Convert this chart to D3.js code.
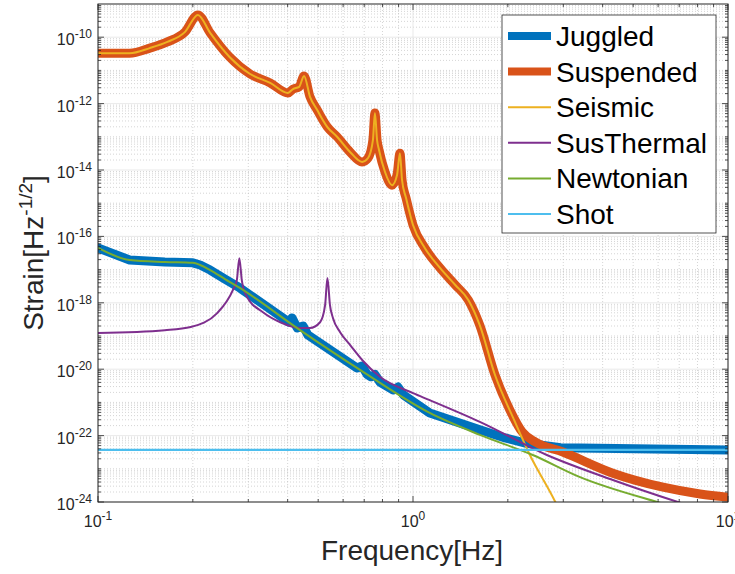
<!DOCTYPE html>
<meta charset="utf-8">
<head>
<style>
body { margin: 0; background: #fff; }
svg { display: block; font-family: "Liberation Sans", Arial, Helvetica, sans-serif; }
.minor { stroke: #b8b8b8; stroke-width: .6px; stroke-dasharray: 1,2; }
.major { stroke: #e3e3e3; stroke-width: .8px; }
.frame { fill: none; stroke: #262626; stroke-width: 1px; }
.tick { stroke: #262626; stroke-width: .8px; }
.ticklabel { fill: #262626; font-size: 16px; }
</style>
</head>
<body>
<script src="https://d3js.org/d3.v7.min.js"></script>
<div id="chart"></div>
<script>

// data (frequency in Hz, strain in Hz^-1/2)
var juggledFreq = [0.1, 0.126, 0.163, 0.2, 0.211, 0.227, 0.253, 0.282, 0.404, 0.413, 0.429, 0.448, 0.464, 0.664, 0.689, 0.715, 0.736, 0.757, 0.785, 0.864, 0.896, 0.933, 1.13, 1.63, 1.96, 2.26, 2.94, 10];
var juggledStrain = [4.5e-17, 1.95e-17, 1.7e-17, 1.6e-17, 1.38e-17, 9.7e-18, 5.2e-18, 2.8e-18, 2.6e-19, 3.5e-19, 1.74e-19, 2.0e-19, 1.07e-19, 1.09e-20, 1.25e-20, 7.0e-21, 5.9e-21, 6.9e-21, 4.1e-21, 2.36e-21, 2.9e-21, 1.67e-21, 4.8e-22, 1.5e-22, 8.5e-23, 6e-23, 4.3e-23, 3.7e-23];

var suspendedFreq = [0.1, 0.126, 0.146, 0.166, 0.189, 0.2075, 0.227, 0.262, 0.304, 0.352, 0.401, 0.416, 0.435, 0.451, 0.471, 0.496, 0.534, 0.574, 0.631, 0.689, 0.72, 0.746, 0.757, 0.769, 0.78, 0.815, 0.858, 0.89, 0.909, 0.923, 0.95, 1.0, 1.09, 1.22, 1.36, 1.50, 1.63, 1.82, 2.03, 2.22, 2.44, 2.99, 4.31, 6.22, 8.15, 10];
var suspendedStrain = [3.3e-11, 3.3e-11, 4.7e-11, 7.2e-11, 1.45e-10, 4.7e-10, 1.35e-10, 2.5e-11, 7.8e-12, 4.2e-12, 2.1e-12, 2.75e-12, 3.2e-12, 6.8e-12, 1.6e-12, 6.5e-13, 2.0e-13, 1.0e-13, 3.5e-14, 1.75e-14, 2.3e-14, 7.9e-14, 5.2e-13, 7.9e-14, 4.0e-14, 8.7e-15, 3.5e-15, 7.1e-15, 3.2e-14, 5.0e-15, 1.45e-15, 2.2e-16, 4.5e-17, 1.1e-17, 3.5e-18, 1.2e-18, 2.1e-19, 6.8e-21, 5.9e-22, 1.3e-22, 6.5e-23, 3.2e-23, 7.4e-24, 2.8e-24, 1.75e-24, 1.4e-24];

var seismicFreq = [0.1, 0.126, 0.146, 0.166, 0.189, 0.2075, 0.227, 0.262, 0.304, 0.352, 0.401, 0.416, 0.435, 0.451, 0.471, 0.496, 0.534, 0.574, 0.631, 0.689, 0.72, 0.746, 0.757, 0.769, 0.78, 0.815, 0.858, 0.89, 0.909, 0.923, 0.95, 1.0, 1.09, 1.22, 1.36, 1.50, 1.63, 1.82, 2.08, 2.35, 2.83, 3.04];
var seismicStrain = [3.3e-11, 3.3e-11, 4.7e-11, 7.2e-11, 1.45e-10, 4.7e-10, 1.35e-10, 2.5e-11, 7.8e-12, 4.2e-12, 2.1e-12, 2.75e-12, 3.2e-12, 6.8e-12, 1.6e-12, 6.5e-13, 2.0e-13, 1.0e-13, 3.5e-14, 1.75e-14, 2.3e-14, 7.9e-14, 5.2e-13, 7.9e-14, 4.0e-14, 8.7e-15, 3.5e-15, 7.1e-15, 3.2e-14, 5.0e-15, 1.45e-15, 2.2e-16, 4.5e-17, 1.1e-17, 3.5e-18, 1.2e-18, 2.1e-19, 6.8e-21, 3.4e-22, 2.6e-23, 1e-24, 2.3e-25];

var susThermalFreq = [0.1, 0.163, 0.197, 0.239, 0.268, 0.276, 0.281, 0.286, 0.295, 0.334, 0.379, 0.438, 0.471, 0.507, 0.526, 0.535, 0.545, 0.557, 0.587, 0.631, 0.693, 0.785, 1.0, 1.13, 1.63, 2.66, 4.31, 6.93, 9.44];
var susThermalStrain = [1.23e-19, 1.5e-19, 1.87e-19, 4.9e-19, 2.4e-18, 4.9e-18, 2.2e-17, 4.9e-18, 1.7e-18, 5.2e-19, 2.6e-19, 1.75e-19, 1.75e-19, 2.6e-19, 8.5e-19, 5.6e-18, 8.5e-19, 3.5e-19, 1.3e-19, 5.4e-20, 1.8e-20, 5.9e-21, 1.9e-21, 1.17e-21, 2.6e-22, 2.6e-23, 4.6e-24, 1e-24, 4e-25];

var newtonianFreq = [0.1, 0.126, 0.163, 0.2, 0.211, 0.227, 0.253, 0.282, 0.438, 0.679, 1.13, 1.63, 2.40, 3.39, 5.96, 8.15];
var newtonianStrain = [4.5e-17, 1.95e-17, 1.7e-17, 1.6e-17, 1.38e-17, 9.7e-18, 5.2e-18, 2.8e-18, 1.5e-19, 9.5e-21, 4.8e-22, 1.05e-22, 2.6e-23, 5.6e-24, 1e-24, 4.4e-25];

var shotFreq = [0.1, 10];
var shotStrain = [3.7e-23, 3.7e-23];

var seriesNames = ["Juggled", "Suspended", "Seismic", "SusThermal", "Newtonian", "Shot"];
var seriesColors = ["#0072BD", "#D95319", "#EDB120", "#7E2F8E", "#77AC30", "#4DBEEE"];
var seriesWidths = [9, 9, 2, 2, 2, 2.3];
var seriesFreq = [juggledFreq, suspendedFreq, seismicFreq, susThermalFreq, newtonianFreq, shotFreq];
var seriesStrain = [juggledStrain, suspendedStrain, seismicStrain, susThermalStrain, newtonianStrain, shotStrain];

var xTickExp = [-1, 0, 1];
var yTickExp = [-24, -22, -20, -18, -16, -14, -12, -10];

var width = 735, height = 574;
var pLeft = 98, pRight = 728, pTop = 4, pBottom = 502;

var x = d3.scaleLog().domain([0.1, 10]).range([pLeft, pRight]);
var y = d3.scaleLog().domain([1e-24, 1e-9]).range([pBottom, pTop]);

var svg = d3.select('#chart').append('svg')
    .attr('width', width)
    .attr('height', height);

svg.append('defs').append('clipPath').attr('id', 'clip')
  .append('rect')
    .attr('x', pLeft).attr('y', pTop)
    .attr('width', pRight - pLeft).attr('height', pBottom - pTop);

// minor ticks / grid positions
var xMinor = [], yMinor = [];
for (var e = -1; e < 1; e++) for (var m = 2; m <= 9; m++) xMinor.push(m * Math.pow(10, e));
for (var e = -24; e < -9; e++) for (var m = 1; m <= 9; m++) {
  if (m === 1 && (e % 2 === 0)) continue;
  yMinor.push(m * Math.pow(10, e));
}

var grid = svg.append('g');
grid.selectAll('.gx').data(xMinor).enter().append('line')
    .attr('class', 'minor')
    .attr('x1', d => x(d)).attr('x2', d => x(d))
    .attr('y1', pTop).attr('y2', pBottom);
grid.selectAll('.gy').data(yMinor).enter().append('line')
    .attr('class', 'minor')
    .attr('y1', d => y(d)).attr('y2', d => y(d))
    .attr('x1', pLeft).attr('x2', pRight);
grid.selectAll('.gX').data(xTickExp).enter().append('line')
    .attr('class', 'major')
    .attr('x1', d => x(Math.pow(10, d))).attr('x2', d => x(Math.pow(10, d)))
    .attr('y1', pTop).attr('y2', pBottom);
grid.selectAll('.gY').data(yTickExp).enter().append('line')
    .attr('class', 'major')
    .attr('y1', d => y(Math.pow(10, d))).attr('y2', d => y(Math.pow(10, d)))
    .attr('x1', pLeft).attr('x2', pRight);

// curves (juggled keeps straight joins so its small bumps don't make it sag)
var smoothLine = d3.line()
    .curve(d3.curveMonotoneX)
    .x(d => x(d[0]))
    .y(d => y(d[1]));
var straightLine = d3.line()
    .x(d => x(d[0]))
    .y(d => y(d[1]));

var curves = svg.append('g').attr('clip-path', 'url(#clip)');
seriesNames.forEach(function(name, i) {
  var pts = seriesFreq[i].map((f, j) => [f, seriesStrain[i][j]]);
  var gen = name === 'Juggled' ? straightLine : smoothLine;
  curves.append('path')
      .attr('d', gen(pts))
      .attr('fill', 'none')
      .attr('stroke', seriesColors[i])
      .attr('stroke-width', seriesWidths[i])
      .attr('stroke-linejoin', 'round')
      .attr('stroke-linecap', 'round');
});

// ticks on all four sides
var ticks = svg.append('g');
function tickLines(vals, isX, len) {
  vals.forEach(function(v) {
    if (isX) {
      var px = x(v);
      ticks.append('line').attr('class', 'tick').attr('x1', px).attr('x2', px).attr('y1', pBottom).attr('y2', pBottom - len);
      ticks.append('line').attr('class', 'tick').attr('x1', px).attr('x2', px).attr('y1', pTop).attr('y2', pTop + len);
    } else {
      var py = y(v);
      ticks.append('line').attr('class', 'tick').attr('y1', py).attr('y2', py).attr('x1', pLeft).attr('x2', pLeft + len);
      ticks.append('line').attr('class', 'tick').attr('y1', py).attr('y2', py).attr('x1', pRight).attr('x2', pRight - len);
    }
  });
}
tickLines(xMinor, true, 3);
tickLines(xTickExp.map(d => Math.pow(10, d)), true, 6);
tickLines(yMinor, false, 3);
tickLines(yTickExp.map(d => Math.pow(10, d)), false, 6);

svg.append('rect').attr('class', 'frame')
    .attr('x', pLeft).attr('y', pTop)
    .attr('width', pRight - pLeft).attr('height', pBottom - pTop);

// tick labels
yTickExp.forEach(function(e) {
  var t = svg.append('text').attr('class', 'ticklabel')
      .attr('x', pLeft - 6).attr('y', y(Math.pow(10, e)) + 8)
      .attr('text-anchor', 'end');
  t.append('tspan').text('10');
  t.append('tspan').attr('dy', -7).attr('font-size', 12).text(e);
});
xTickExp.forEach(function(e) {
  var t = svg.append('text').attr('class', 'ticklabel')
      .attr('x', x(Math.pow(10, e))).attr('y', pBottom + 25)
      .attr('text-anchor', 'middle');
  t.append('tspan').text('10');
  t.append('tspan').attr('dy', -7).attr('font-size', 12).text(e);
});

// axis titles
svg.append('text')
    .attr('x', 412).attr('y', 560)
    .attr('text-anchor', 'middle')
    .attr('font-size', 28).attr('fill', '#262626')
    .text('Frequency[Hz]');

var yl = svg.append('text')
    .attr('transform', 'translate(43,253) rotate(-90)')
    .attr('text-anchor', 'middle')
    .attr('font-size', 28).attr('fill', '#262626');
yl.append('tspan').text('Strain[Hz');
yl.append('tspan').attr('dy', -11).attr('font-size', 19).text('-1/2');
yl.append('tspan').attr('dy', 11).text(']');

// legend
var lg = svg.append('g');
lg.append('rect')
    .attr('x', 502).attr('y', 15)
    .attr('width', 214).attr('height', 218)
    .attr('fill', '#fff').attr('stroke', '#262626').attr('stroke-width', 0.8);
var rowY = d3.scaleLinear().domain([0, 5]).range([36, 214]);
seriesNames.forEach(function(name, i) {
  lg.append('line')
      .attr('x1', 508).attr('x2', 551)
      .attr('y1', rowY(i)).attr('y2', rowY(i))
      .attr('stroke', seriesColors[i])
      .attr('stroke-width', seriesWidths[i] > 5 ? 8 : 2);
  lg.append('text')
      .attr('x', 556).attr('y', rowY(i) + 10)
      .attr('font-size', 28).attr('fill', '#000')
      .text(name);
});
</script>
</body>
